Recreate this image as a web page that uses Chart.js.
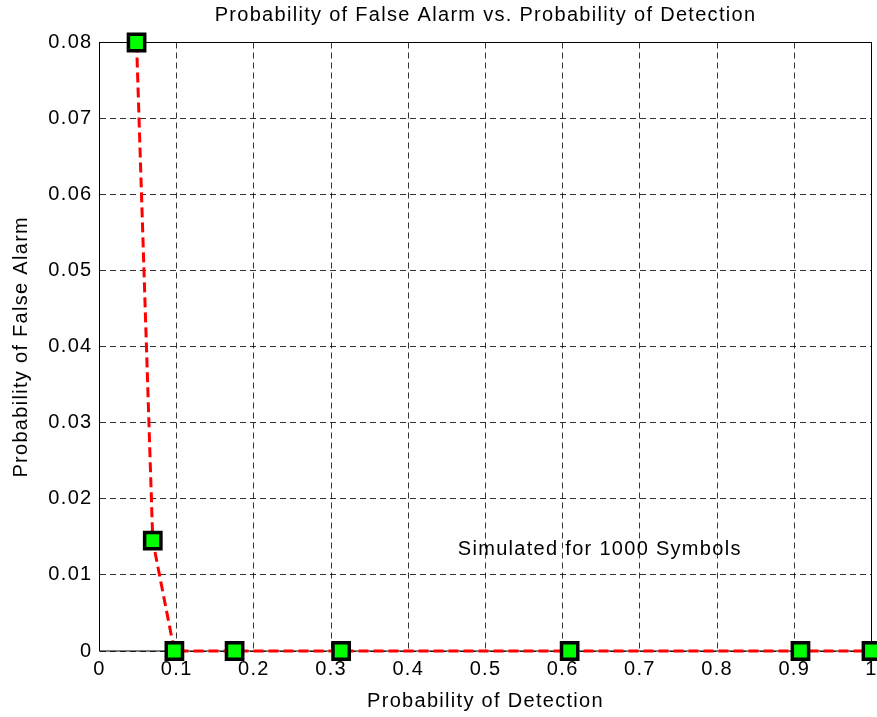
<!DOCTYPE html>
<html>
<head>
<meta charset="utf-8">
<script src="https://cdn.jsdelivr.net/npm/chart.js@4/dist/chart.umd.min.js"></script>
<style>
  html, body { margin: 0; padding: 0; background: #fff; overflow: hidden; }
  #wrap { width: 900px; height: 717px; }
</style>
</head>
<body>
<div id="wrap"><canvas id="rocChart" width="900" height="717"></canvas></div>
<script>
// Probability of detection (x) and probability of false alarm (y)
const probDetection = [0.048, 0.069, 0.097, 0.175, 0.313, 0.609, 0.908, 1.0];
const probFalseAlarm = [0.08, 0.0145, 0, 0, 0, 0, 0, 0];

// Axis ticks
const xTickValues = [0, 0.1, 0.2, 0.3, 0.4, 0.5, 0.6, 0.7, 0.8, 0.9, 1];
const xTickLabels = ['0', '0.1', '0.2', '0.3', '0.4', '0.5', '0.6', '0.7', '0.8', '0.9', '1'];
const yTickValues = [0, 0.01, 0.02, 0.03, 0.04, 0.05, 0.06, 0.07, 0.08];
const yTickLabels = ['0', '0.01', '0.02', '0.03', '0.04', '0.05', '0.06', '0.07', '0.08'];

const FONT = "'Liberation Sans', Arial, sans-serif";
const FONT_SIZE = 20;
const NOTE = { text: 'Simulated for 1000 Symbols', x: 0.648, y: 0.0133 };

// Slightly wider letter spacing for all canvas text
const textSpacing = {
  id: 'textSpacing',
  beforeDraw(chart) {
    chart.ctx.letterSpacing = '1.3px';
  }
};

// Solid box around the plot area, drawn under the markers
const plotBox = {
  id: 'plotBox',
  beforeDatasetsDraw(chart) {
    const { ctx, chartArea: a } = chart;
    ctx.save();
    ctx.strokeStyle = '#000';
    ctx.lineWidth = 1;
    ctx.setLineDash([]);
    ctx.strokeRect(a.left, a.top, a.right - a.left, a.bottom - a.top);
    ctx.restore();
  }
};

// Text note inside the plot
const noteText = {
  id: 'noteText',
  afterDatasetsDraw(chart) {
    const { ctx, scales } = chart;
    ctx.save();
    ctx.font = FONT_SIZE + 'px ' + FONT;
    ctx.fillStyle = '#000';
    ctx.textAlign = 'center';
    ctx.textBaseline = 'middle';
    ctx.fillText(NOTE.text, scales.x.getPixelForValue(NOTE.x), scales.y.getPixelForValue(NOTE.y));
    ctx.restore();
  }
};

function fixedTicks(values) {
  return function(scale) {
    scale.ticks = values.map(v => ({ value: v }));
  };
}

const gridStyle = {
  color: 'rgba(0,0,0,0.8)',
  lineWidth: 1,
  drawTicks: false,
  borderDash: [6, 4]
};

new Chart(document.getElementById('rocChart'), {
  type: 'scatter',
  data: {
    datasets: [{
      data: probDetection.map((x, i) => ({ x: x, y: probFalseAlarm[i] })),
      showLine: true,
      tension: 0,
      borderColor: '#ff0000',
      borderWidth: 3,
      borderDash: [10, 5],
      pointStyle: 'rect',
      pointRadius: 11.5,
      pointHoverRadius: 11.5,
      pointBackgroundColor: '#00ff00',
      pointBorderColor: '#000',
      pointBorderWidth: 3.5,
      clip: false
    }]
  },
  options: {
    responsive: false,
    animation: false,
    layout: { padding: { left: 0, right: 28.5, top: 0, bottom: 0 } },
    plugins: {
      legend: { display: false },
      tooltip: { enabled: false },
      title: {
        display: true,
        fullSize: false,
        text: 'Probability of False Alarm vs. Probability of Detection',
        color: '#000',
        font: { family: FONT, size: FONT_SIZE, weight: 'normal' },
        padding: { top: 3, bottom: 15.5 }
      }
    },
    scales: {
      x: {
        type: 'linear',
        min: 0,
        max: 1,
        afterBuildTicks: fixedTicks(xTickValues),
        afterFit(scale) { scale.height = 66; },
        grid: gridStyle,
        border: { display: false, dash: [6, 4] },
        ticks: {
          color: '#000',
          padding: 6,
          maxRotation: 0,
          font: { family: FONT, size: FONT_SIZE },
          callback: (v) => xTickLabels[xTickValues.indexOf(v)]
        },
        title: {
          display: true,
          text: 'Probability of Detection',
          color: '#000',
          font: { family: FONT, size: FONT_SIZE },
          padding: { top: 2, bottom: 4 }
        }
      },
      y: {
        type: 'linear',
        min: 0,
        max: 0.08,
        afterBuildTicks: fixedTicks(yTickValues),
        afterFit(scale) { scale.width = 99.5; },
        grid: gridStyle,
        border: { display: false, dash: [6, 4] },
        ticks: {
          color: '#000',
          padding: 7,
          font: { family: FONT, size: FONT_SIZE },
          callback: (v) => yTickLabels[yTickValues.indexOf(v)]
        },
        title: {
          display: true,
          text: 'Probability of False Alarm',
          color: '#000',
          font: { family: FONT, size: FONT_SIZE },
          padding: { top: 9, bottom: 0 }
        }
      }
    }
  },
  plugins: [textSpacing, plotBox, noteText]
});
</script>
</body>
</html>
